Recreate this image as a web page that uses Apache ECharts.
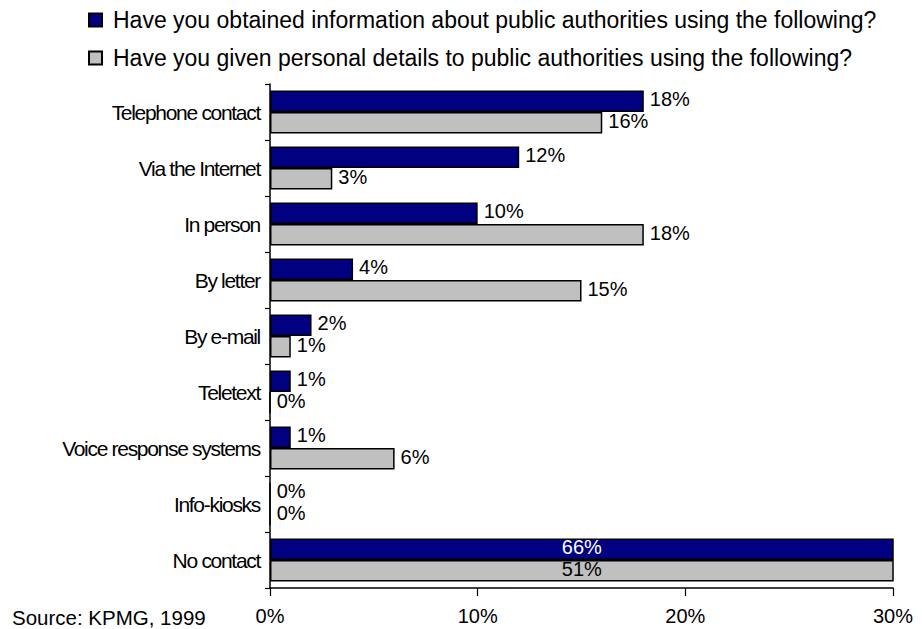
<!DOCTYPE html>
<html>
<head>
<meta charset="utf-8">
<script src="https://cdn.jsdelivr.net/npm/echarts@6/dist/echarts.min.js"></script>
<style>
  html, body { margin: 0; padding: 0; background: #fff; }
  #chart { width: 922px; height: 629px; }
</style>
</head>
<body>
<div id="chart"></div>
<script>
// Channels used to contact public authorities (share of respondents, %)
const categories = [
  'Telephone contact', 'Via the Internet', 'In person', 'By letter', 'By e-mail',
  'Teletext', 'Voice response systems', 'Info-kiosks', 'No contact'
];
const seriesNames = [
  'Have you obtained information about public authorities using the following?',
  'Have you given personal details to public authorities using the following?'
];
const obtainedInfo = [18, 12, 10, 4, 2, 1, 1, 0, 66];
const givenDetails = [16, 3, 18, 15, 1, 0, 6, 0, 51];
const xTicks = [0, 10, 20, 30];
const sourceNote = 'Source: KPMG, 1999';

const FONT = 'Arial, "Liberation Sans", sans-serif';
const xMin = xTicks[0], xMax = xTicks[xTicks.length - 1];

// Values beyond the axis range are clipped; their label sits centred inside the visible bar
function buildData(values, insideColor) {
  return values.map(v => v > xMax
    ? { value: v, label: { position: 'inside', color: insideColor, distance: 0 } }
    : v);
}

function barSeries(name, values, color, insideColor) {
  return {
    name: name,
    type: 'bar',
    data: buildData(values, insideColor),
    barWidth: 21.5,
    barGap: '0%',
    clip: true,
    itemStyle: { color: color, borderColor: '#000', borderWidth: 1.5 },
    label: {
      show: true,
      position: 'right',
      distance: 6,
      offset: [0, -2],
      formatter: '{c}%',
      fontFamily: FONT,
      fontSize: 20,
      color: '#000'
    },
    emphasis: { disabled: true }
  };
}

const chart = echarts.init(document.getElementById('chart'), null, { renderer: 'svg' });
chart.setOption({
  animation: false,
  backgroundColor: '#fff',
  grid: { left: 270, right: 29, top: 84, bottom: 41, containLabel: false },
  legend: {
    orient: 'vertical',
    left: 88,
    top: 7,
    padding: 0,
    itemWidth: 13,
    itemHeight: 13,
    itemGap: 12,
    icon: 'rect',
    selectedMode: false,
    textStyle: { fontFamily: FONT, fontSize: 23, color: '#000', lineHeight: 26, padding: [0, 0, 0, 6] },
    data: seriesNames
  },
  xAxis: {
    type: 'value',
    min: xMin,
    max: xMax,
    interval: 10,
    splitLine: { show: false },
    axisLine: { show: true, lineStyle: { color: '#000', width: 1.5 } },
    axisTick: { show: true, length: 8, lineStyle: { color: '#000', width: 1.2 } },
    axisLabel: { formatter: '{value}%', fontFamily: FONT, fontSize: 20, color: '#000', margin: 18 }
  },
  yAxis: {
    type: 'category',
    inverse: true,
    data: categories,
    axisLine: { show: true, lineStyle: { color: '#000', width: 1.5 } },
    axisTick: { show: true, length: 5, lineStyle: { color: '#000', width: 1.2 } },
    axisLabel: { interval: 0, fontFamily: 'Liberation Sans', fontSize: 21, color: '#000', margin: 10 }
  },
  graphic: [{
    type: 'text',
    left: 12,
    top: 607,
    style: { text: sourceNote, font: '20.5px ' + FONT, fill: '#000' }
  }],
  series: [
    barSeries(seriesNames[0], obtainedInfo, '#000080', '#fff'),
    barSeries(seriesNames[1], givenDetails, '#c0c0c0', '#000')
  ]
});

// Category names are set tightly, as in a condensed typeface
const catSet = new Set(categories);
function tightenCategoryLabels() {
  document.querySelectorAll('#chart svg text').forEach(t => {
    if (catSet.has(t.textContent)) t.setAttribute('letter-spacing', '-1.3');
  });
}
chart.on('finished', tightenCategoryLabels);
tightenCategoryLabels();
</script>
</body>
</html>
